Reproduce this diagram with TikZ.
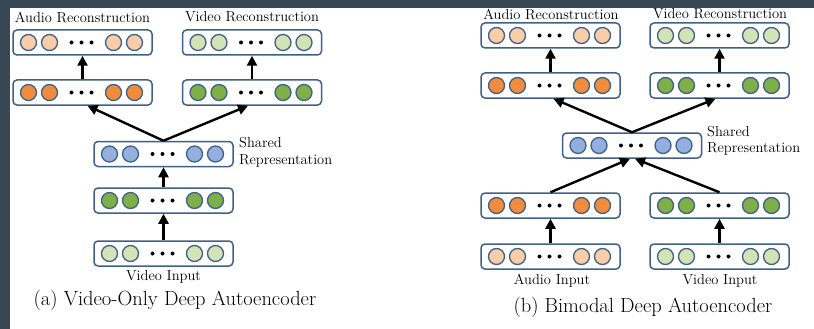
\documentclass[tikz,border=0pt]{standalone}
\usetikzlibrary{arrows.meta}

\definecolor{slate}{RGB}{55,72,84}
\definecolor{boxblue}{RGB}{63,96,137}
\definecolor{lorange}{RGB}{249,205,168}
\definecolor{dorange}{RGB}{240,140,60}
\definecolor{lgreen}{RGB}{210,227,181}
\definecolor{dgreen}{RGB}{127,175,72}
\definecolor{sblue}{RGB}{147,175,221}

\tikzset{
  layerbox/.style={draw=boxblue, line width=1.5pt, rounded corners=4pt, fill=white,
    minimum width=139pt, minimum height=25pt, inner sep=0pt},
  unit/.style={draw=boxblue, line width=1.3pt},
  link/.style={line width=2.4pt, -{Triangle[length=10pt,width=10pt]}},
  lbl/.style={font=\fontsize{14.5}{16.5}\selectfont, inner sep=0pt},
  captext/.style={font=\fontsize{20.5}{22}\selectfont, inner sep=0pt},
}

% one layer: name, x, y, colour of the units
\newcommand{\layer}[4]{%
  \node[layerbox] (#1) at (#2,#3) {};
  \foreach \dx in {-54,-33,31,52}
    \draw[unit, fill=#4] ([xshift=\dx pt]#1.center) circle (8pt);
  \foreach \dx in {-11,-1,9}
    \fill ([xshift=\dx pt]#1.center) circle (2pt);
}

\begin{document}
\begin{tikzpicture}[x=1pt,y=-1pt]
        \useasboundingbox (0,0) rectangle (814,329);
        \fill[white] (0,0) rectangle (814,329);
        \fill[slate] (0,0) rectangle (814,8);
        \fill[slate] (0,0) rectangle (10,329);

        % (a) video only
        \layer{arec}{82.5}{42.5}{lorange}
        \layer{vrec}{252}{42.5}{lgreen}
        \layer{ahid}{82.5}{92.5}{dorange}
        \layer{vhid}{252}{92.5}{dgreen}
        \layer{shared}{163.5}{154}{sblue}
        \layer{vhidin}{163.5}{200.5}{dgreen}
        \layer{vin}{163.5}{253.5}{lgreen}

        \draw[link] (vin.north) -- (vhidin.south);
        \draw[link] (vhidin.north) -- (shared.south);
        \draw[link] (shared.north) -- ([xshift=5pt]ahid.south);
        \draw[link] (shared.north) -- ([xshift=-4pt]vhid.south);
        \draw[link] (ahid.north) -- (arec.south);
        \draw[link] (vhid.north) -- (vrec.south);

        \node[lbl] (arec-l) at (82.5,17) {Audio Reconstruction};
        \node[lbl] (vrec-l) at (252,17) {Video Reconstruction};
        \node[lbl, anchor=west, align=left] (shared-l) at (239,152.5) {Shared\\Representation};
        \node[lbl] (vin-l) at (163.5,277) {Video Input};
        \node[captext] (cap-a) at (175,300) {(a) Video-Only Deep Autoencoder};

        % (b) bimodal
        \layer{arecb}{550.5}{35.5}{lorange}
        \layer{vrecb}{719.5}{35.5}{lgreen}
        \layer{ahidb}{550.5}{85.5}{dorange}
        \layer{vhidb}{719.5}{85.5}{dgreen}
        \layer{sharedb}{632}{145.5}{sblue}
        \layer{ahidinb}{550.5}{205.5}{dorange}
        \layer{vhidinb}{719.5}{205.5}{dgreen}
        \layer{ainb}{550.5}{256.5}{lorange}
        \layer{vinb}{719.5}{256.5}{lgreen}

        \draw[link] (ainb.north) -- (ahidinb.south);
        \draw[link] (vinb.north) -- (vhidinb.south);
        \draw[link] (ahidinb.north) -- ([xshift=-2pt]sharedb.south);
        \draw[link] (vhidinb.north) -- ([xshift=3pt]sharedb.south);
        \draw[link] (sharedb.north) -- ([xshift=3pt]ahidb.south);
        \draw[link] (sharedb.north) -- ([xshift=-4pt]vhidb.south);
        \draw[link] (ahidb.north) -- (arecb.south);
        \draw[link] (vhidb.north) -- (vrecb.south);

        \node[lbl] (arecb-l) at (551,14) {Audio Reconstruction};
        \node[lbl] (vrecb-l) at (720,14) {Video Reconstruction};
        \node[lbl, anchor=west, align=left] (sharedb-l) at (707,141) {Shared\\Representation};
        \node[lbl] (ainb-l) at (552,281) {Audio Input};
        \node[lbl] (vinb-l) at (720,281) {Video Input};
        \node[captext] (cap-b) at (643,307) {(b) Bimodal Deep Autoencoder};
\end{tikzpicture}
\end{document}
